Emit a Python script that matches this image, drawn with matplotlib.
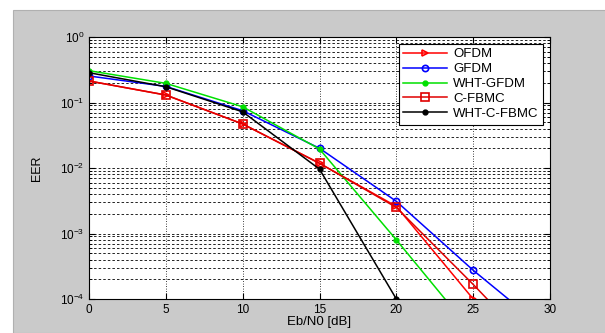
import numpy as np
import matplotlib.pyplot as plt
from matplotlib.patches import Rectangle

plt.rcParams['font.family'] = ['Liberation Sans', 'DejaVu Sans']
plt.rcParams['mathtext.fontset'] = 'custom'
plt.rcParams['mathtext.rm'] = 'Liberation Sans'

snr = [0, 5, 10, 15, 20, 25, 30]
ofdm = [0.213, 0.130, 0.047, 0.0118, 2.6e-3, 1.0e-4, 4e-6]
gfdm = [0.254, 0.176, 0.075, 0.020, 3.1e-3, 2.75e-4, 3e-5]
wht_gfdm = [0.306, 0.196, 0.086, 0.0195, 8.0e-4, 3e-5, np.nan]
c_fbmc = [0.213, 0.130, 0.047, 0.0118, 2.5e-3, 1.67e-4, 1e-5]
wht_c_fbmc = [0.285, 0.174, 0.072, 0.0096, 1.0e-4, np.nan, np.nan]

fig = plt.figure(figsize=(6.05, 3.33), dpi=100)
fig.patches.append(Rectangle((13 / 605, 0), 1, 1 - 10 / 333, transform=fig.transFigure,
                             facecolor='#cacaca', edgecolor='#b0b0b0', lw=0.8, zorder=-10))
ax = fig.add_axes([89 / 605, 1 - 299 / 333, (550 - 89) / 605, (299 - 37) / 333])
ax.set_facecolor('white')

ax.semilogy(snr, ofdm, color='red', marker='>', mfc='none', ms=5, mew=1.2, lw=1.1, label='OFDM')
ax.semilogy(snr, gfdm, color='blue', marker='o', mfc='none', ms=4.5, mew=1.2, lw=1.1, label='GFDM')
ax.semilogy(snr, wht_gfdm, color='#00e000', marker='.', ms=7, lw=1.1, label='WHT-GFDM')
ax.semilogy(snr, c_fbmc, color='#e00000', marker='s', mfc='none', ms=5.5, mew=1.2, lw=1.1, label='C-FBMC')
ax.semilogy(snr, wht_c_fbmc, color='black', marker='.', ms=7, lw=1.1, label='WHT-C-FBMC')

ax.set_xlim(0, 30)
ax.set_ylim(1e-4, 1)
ax.set_xticks(range(0, 31, 5))
ax.grid(True, which='major', axis='x', color='black', lw=0.6, linestyle=(0, (1, 2)))
ax.grid(True, which='both', axis='y', color='black', lw=0.6, linestyle=(0, (3, 2.5)))
ax.tick_params(which='both', direction='in', top=True, right=True, labelsize=8.5)
ax.tick_params(which='major', length=4)
ax.tick_params(which='minor', length=2)
for s in ax.spines.values():
    s.set_linewidth(0.8)

ax.set_xlabel('Eb/N0 [dB]', fontsize=9.5, labelpad=0)
ax.set_ylabel('EER', fontsize=9, labelpad=12)

leg = ax.legend(loc='upper right', fontsize=9.5, fancybox=False, edgecolor='black',
                framealpha=1, handlelength=3.3, handletextpad=0.5, borderaxespad=0.5,
                labelspacing=0.2, borderpad=0.35)
leg.get_frame().set_linewidth(0.8)

fig.savefig('out.png', dpi=100)
